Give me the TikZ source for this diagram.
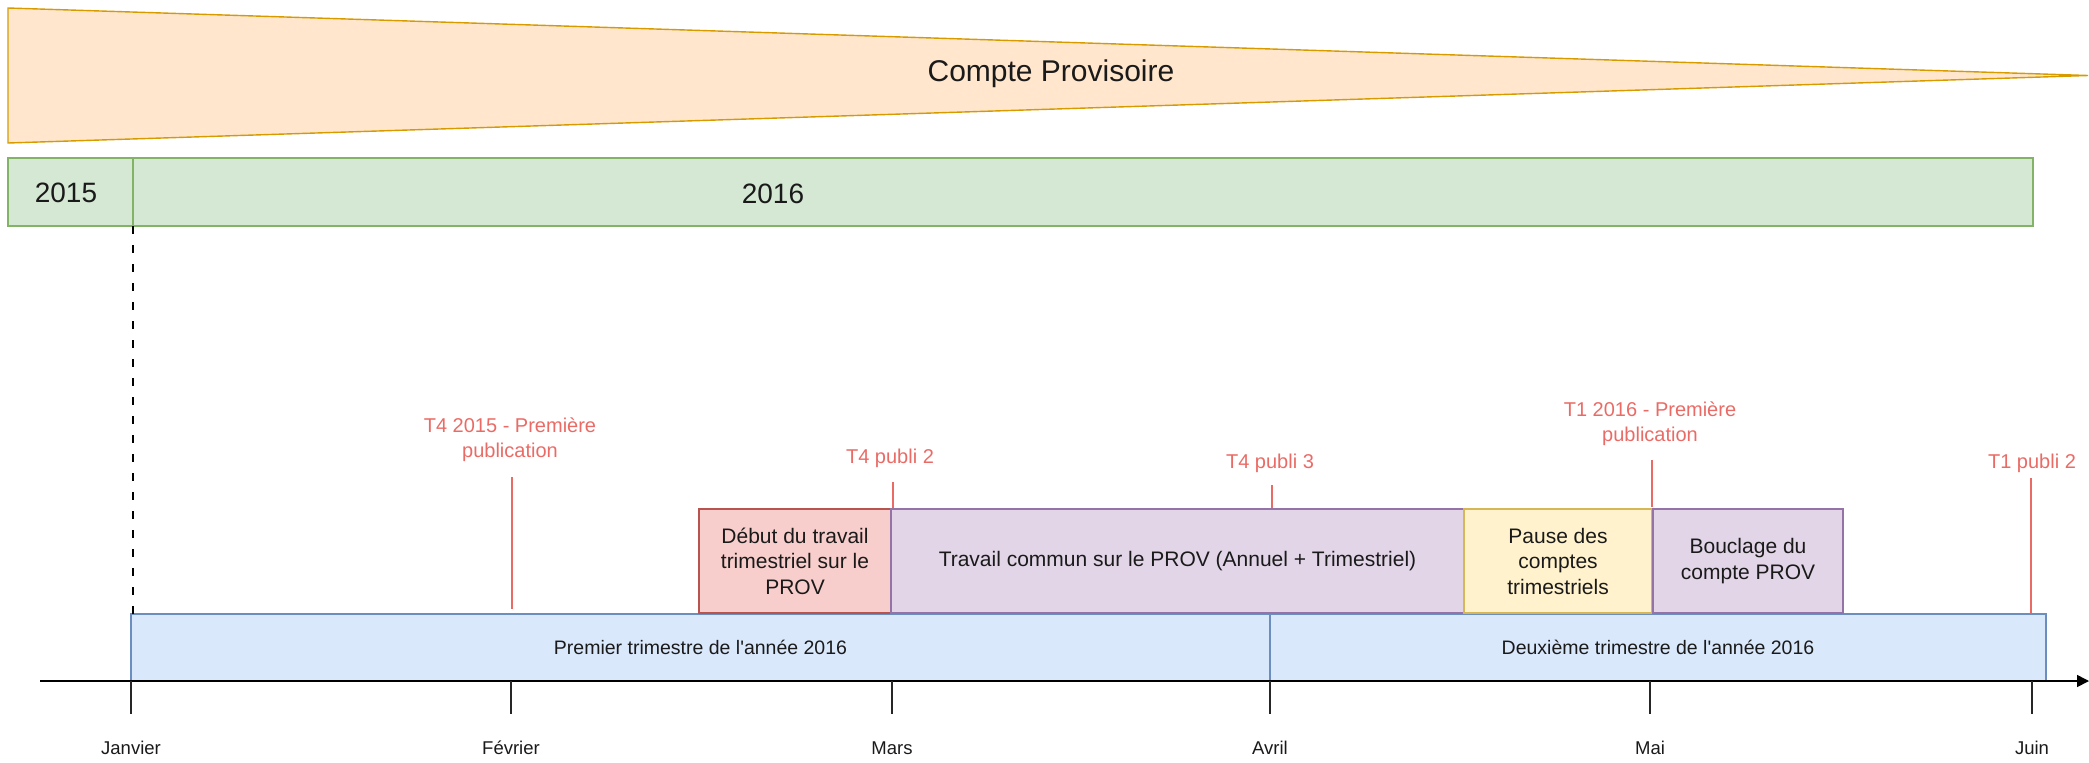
\documentclass[tikz,border=0pt]{standalone}
\usepackage{fontspec}
\setmainfont{Liberation Sans}[Ligatures=TeXOff]
\usetikzlibrary{arrows.meta}
\definecolor{orfill}{HTML}{FFE6CC}\definecolor{ordraw}{HTML}{D79B00}
\definecolor{grfill}{HTML}{D5E8D4}\definecolor{grdraw}{HTML}{82B366}
\definecolor{blfill}{HTML}{DAE8FC}\definecolor{bldraw}{HTML}{6C8EBF}
\definecolor{rdfill}{HTML}{F8CECC}\definecolor{rddraw}{HTML}{B85450}
\definecolor{pufill}{HTML}{E1D5E7}\definecolor{pudraw}{HTML}{9673A6}
\definecolor{yefill}{HTML}{FFF2CC}\definecolor{yedraw}{HTML}{D6B656}
\definecolor{pubred}{HTML}{EA6B66}
\definecolor{txt}{HTML}{1A1A1A}
\begin{document}
\begin{tikzpicture}[x=1pt,y=-1pt,
  bx/.style={draw, line width=1.4pt, inner sep=0pt, outer sep=0pt, anchor=north west, text=txt, align=center,
    font=\fontsize{21}{25.5}\selectfont},
  greenbox/.style={bx, fill=grfill, draw=grdraw},
  bluebox/.style={bx, fill=blfill, draw=bldraw, font=\fontsize{19.5}{24}\selectfont},
  redbox/.style={bx, fill=rdfill, draw=rddraw},
  purplebox/.style={bx, fill=pufill, draw=pudraw},
  yellowbox/.style={bx, fill=yefill, draw=yedraw},
  pubtxt/.style={text=pubred, align=center, inner sep=0pt, font=\fontsize{20}{25}\selectfont},
  pubtick/.style={draw=pubred, line width=2pt},
  monthtxt/.style={text=txt, inner sep=0pt, font=\fontsize{18.5}{22}\selectfont},
  monthtick/.style={draw=black!85, line width=1.5pt},
  yeartxt/.style={text=txt, inner sep=0pt, font=\fontsize{28}{32}\selectfont}
]
\useasboundingbox (0,0) rectangle (2089,763);

% Compte provisoire wedge
\draw[fill=orfill, draw=ordraw, line width=1.4pt, line join=miter] (8,8) -- (2088,75.5) -- (8,143) -- cycle;
\node[text=txt, inner sep=0pt, font=\fontsize{30}{34}\selectfont] (cp) at (1051,74) {Compte Provisoire};

% Years bar
\node[greenbox, minimum width=125pt, minimum height=68pt] (y2015) at (8,158) {};
\node[greenbox, minimum width=1900pt, minimum height=68pt] (y2016) at (133,158) {};
\node[yeartxt] (t2015) at (66,193) {2015};
\node[yeartxt] (t2016) at (773,194) {2016};

% Quarter boxes
\node[bluebox, minimum width=1139pt, minimum height=67pt] (q1) at (131,614) {Premier trimestre de l'année 2016};
\node[bluebox, minimum width=776pt, minimum height=67pt] (q2) at (1270,614) {Deuxième trimestre de l'année 2016};

% Work boxes
\node[redbox, minimum width=192pt, minimum height=104pt] (debut) at (699,509) {Début du travail\\trimestriel sur le\\PROV};
\node[purplebox, minimum width=573pt, minimum height=104pt] (commun) at (891,509) {Travail commun sur le PROV (Annuel + Trimestriel)};
\node[yellowbox, minimum width=188pt, minimum height=104pt] (pause) at (1464,509) {Pause des\\comptes\\trimestriels};
\node[purplebox, minimum width=190pt, minimum height=104pt] (bouclage) at (1653,509) {Bouclage du\\compte PROV};

% Dashed marker
\draw[black, line width=2.8pt, dash pattern=on 8pt off 11pt] (y2016.south west) -- (y2016.south west |- q1.north);

% Axis
\coordinate (axs) at (40,681);
\coordinate (axe) at (2089,681);
\draw[black, line width=1.6pt, -{Triangle[length=12pt,width=12pt]}] (axs) -- (axe);

% Months
\foreach \n/\x/\lab in {jan/131/Janvier, fev/511/Février, mar/892/Mars, avr/1270/Avril, mai/1650/Mai, jun/2032/Juin}{
  \coordinate (\n a) at (\x,681);
  \coordinate (\n b) at (\x,714);
  \draw[monthtick] (\n a) -- (\n b);
  \node[monthtxt] (\n l) at (\x,748) {\lab};
}

% Publications
\node[pubtxt] (p1) at (510,440) {T4 2015 - Première\\publication};
\node[pubtxt] (p2) at (890,458) {T4 publi 2};
\node[pubtxt] (p3) at (1270,463) {T4 publi 3};
\node[pubtxt] (p4) at (1650,424) {T1 2016 - Première\\publication};
\node[pubtxt] (p5) at (2032,463) {T1 publi 2};

\coordinate (p1a) at (512,477); \coordinate (p1b) at (512,609);
\coordinate (p2a) at (893,482); \coordinate (p2b) at (893,508);
\coordinate (p3a) at (1272,485); \coordinate (p3b) at (1272,508);
\coordinate (p4a) at (1652,460); \coordinate (p4b) at (1652,507);
\coordinate (p5a) at (2031,478); \coordinate (p5b) at (2031,613);
\draw[pubtick] (p1a) -- (p1b);
\draw[pubtick] (p2a) -- (p2b);
\draw[pubtick] (p3a) -- (p3b);
\draw[pubtick] (p4a) -- (p4b);
\draw[pubtick] (p5a) -- (p5b);
\end{tikzpicture}
\end{document}
